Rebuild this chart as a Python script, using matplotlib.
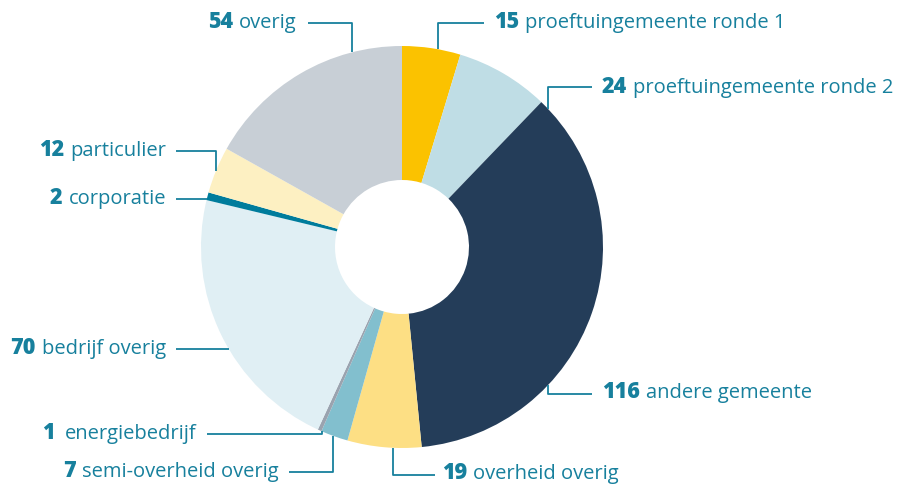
import numpy as np
import matplotlib
matplotlib.use('Agg')
import matplotlib.pyplot as plt

# data
values = [15, 24, 116, 19, 7, 1, 70, 2, 12, 54]
labels = ['proeftuingemeente ronde 1', 'proeftuingemeente ronde 2', 'andere gemeente',
          'overheid overig', 'semi-overheid overig', 'energiebedrijf', 'bedrijf overig',
          'corporatie', 'particulier', 'overig']
colors = ['#FBC200', '#BFDDE5', '#243D59', '#FDDF84', '#82BFCE', '#9AA3AF', '#E0EFF4',
          '#007C9C', '#FDF0C2', '#C8CFD6']

TXT = '#17809D'
W, H = 898, 485
cx, cy = 402, H - 248
R, r_in = 201, 67

fig = plt.figure(figsize=(W / 100, H / 100), dpi=100)
ax = fig.add_axes([0, 0, 1, 1])

ax.pie(values, colors=colors, startangle=90, counterclock=False, radius=R, center=(cx, cy),
       wedgeprops=dict(width=R - r_in, linewidth=0), frame=True)
ax.set_xlim(0, W)
ax.set_ylim(0, H)
ax.axis('off')

def ring_y(x, side):
    # y on outer edge of ring for given x (side=+1 top, -1 bottom)
    return cy + side * np.sqrt(R ** 2 - (x - cx) ** 2)

def ring_x(y, side):
    return cx + side * np.sqrt(R ** 2 - (y - cy) ** 2)

renderer = fig.canvas.get_renderer()
fs = 14.5
fs_num = 15.5
FONT = 'Open Sans'

def label(x, y, num, txt, ha, gap=6):
    # y given in image pixel coords (from top)
    yy = H - y
    if ha == 'left':
        t1 = ax.text(x, yy, str(num), color=TXT, fontsize=fs_num, fontweight='heavy',
                     ha='left', va='baseline', family=FONT)
        bb = t1.get_window_extent(renderer)
        ax.text(bb.x1 + gap, yy, txt, color=TXT, fontsize=fs, ha='left', va='baseline', family=FONT)
    else:
        t2 = ax.text(x, yy, txt, color=TXT, fontsize=fs, ha='right', va='baseline', family=FONT)
        bb = t2.get_window_extent(renderer)
        ax.text(bb.x0 - gap, yy, str(num), color=TXT, fontsize=fs_num, fontweight='heavy',
                ha='right', va='baseline', family=FONT)

lw = 1.3
def line(xs, ys):
    ax.plot(xs, ys, color=TXT, lw=lw, solid_capstyle='butt')

# 54 overig
line([308, 352, 352], [H - 24, H - 24, ring_y(352, 1)])
label(297, 28, values[9], labels[9], 'right')
# 15
line([484, 438, 438], [H - 24, H - 24, ring_y(438, 1)])
label(494, 28, values[0], labels[0], 'left')
# 24
line([592, 548, 548], [H - 88, H - 88, ring_y(548, 1)])
label(602, 93, values[1], labels[1], 'left')
# 116
line([592, 548, 548], [H - 395, H - 395, ring_y(548, -1)])
label(602, 398, values[2], labels[2], 'left')
# 19
line([435, 393, 393], [H - 476, H - 476, ring_y(393, -1)])
label(442, 479, values[3], labels[3], 'left')
# 7
line([289, 333, 333], [H - 473, H - 473, ring_y(333, -1)])
label(279, 477, values[4], labels[4], 'right', gap=7)
# 1
line([207, 322, 322], [H - 435, H - 435, ring_y(322, -1)])
label(197, 439, values[5], labels[5], 'right', gap=11)
# 70
line([176, ring_x(H - 350, -1)], [H - 350, H - 350])
label(166, 354, values[6], labels[6], 'right')
# 2
line([176, ring_x(H - 200, -1)], [H - 200, H - 200])
label(166, 204, values[7], labels[7], 'right')
# 12
line([176, 216, 216], [H - 152, H - 152, ring_y(216, 1)])
label(166, 156, values[8], labels[8], 'right')

fig.savefig('out.png', dpi=100, facecolor='white')
